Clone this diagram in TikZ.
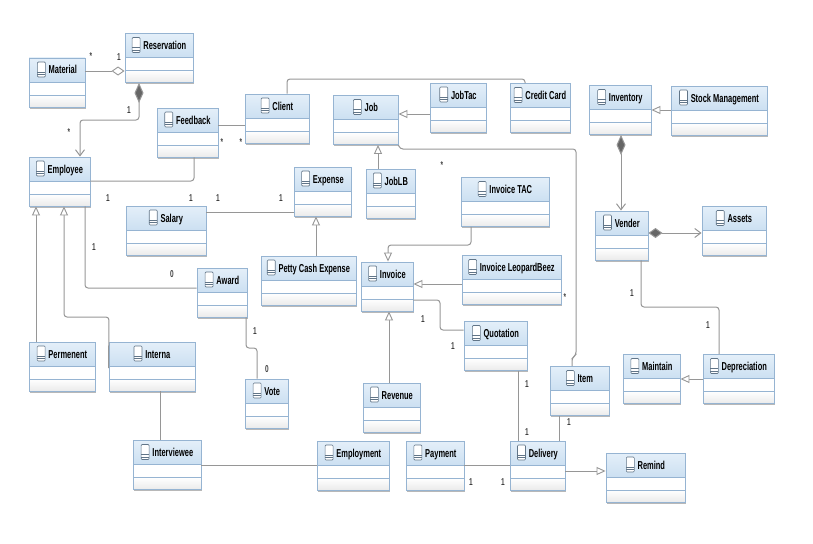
\documentclass[tikz,border=0pt]{standalone}
\usepackage{fontspec}
\setmainfont[FakeStretch=0.65]{Liberation Sans}
\usepackage{tikz}
\usetikzlibrary{arrows.meta, calc, shadows}
\definecolor{classedge}{RGB}{150,180,210}
\definecolor{classtop}{RGB}{228,239,249}
\definecolor{classbot}{RGB}{178,208,234}
\definecolor{linkgray}{RGB}{150,150,150}
\newcommand{\classicon}{\tikz[baseline=0pt,x=1pt,y=1pt]{\draw[classedge!65!black,fill=white,rounded corners=1pt,line width=0.6pt] (0,-3) rectangle (8,12);\draw[classedge!65!black,line width=0.6pt] (0,2)--(8,2) (0,-0.5)--(8,-0.5);}\hspace{3pt}}

\begin{document}
\begin{tikzpicture}[
    x=1pt, y=-1pt,
    classbox/.style={draw=classedge, line width=0.9pt, fill=white, inner xsep=0pt, inner ysep=5pt,
      text height=11pt, text depth=28pt, align=center, font=\bfseries\fontsize{11.5}{12}\selectfont,
      drop shadow={shadow xshift=0.6pt, shadow yshift=-1.6pt, fill=gray!70, opacity=0.8},
      path picture={
        \fill[top color=classtop, bottom color=classbot] (path picture bounding box.north west) rectangle ($(path picture bounding box.north east)+(0,24)$);
        \fill[top color=white, bottom color=gray!16] ($(path picture bounding box.south west)+(0,-12)$) rectangle (path picture bounding box.south east);
        \draw[classedge] ($(path picture bounding box.north west)+(0,24)$) -- ($(path picture bounding box.north east)+(0,24)$);
        \draw[classedge] ($(path picture bounding box.south west)+(0,-12)$) -- ($(path picture bounding box.south east)+(0,-12)$);
      }},
    link/.style={draw=linkgray, line width=1pt, rounded corners=3pt},
    inherit/.style={link, -{Triangle[open, fill=white, length=9pt, width=8pt, line width=0.9pt]}},
    hollowdia/.style={link, {Diamond[open, fill=white, length=13pt, width=9pt, line width=0.9pt]}-},
    soliddia/.style={link, {Diamond[fill=gray!80!black, length=20pt, width=9pt]}-{Straight Barb[length=6pt, width=9pt]}},
    flatdia/.style={link, {Diamond[fill=gray!80!black, length=14pt, width=10pt]}-{Straight Barb[length=6pt, width=9pt]}},
    mult/.style={font=\bfseries\fontsize{10}{10}\selectfont, text=black!75, inner sep=0pt}
]
  \useasboundingbox (0,0) rectangle (813,543);

  % classes
  \node[classbox, minimum width=56pt] (Material) at (57,82.5) {\classicon Material};
  \node[classbox, minimum width=68pt] (Reservation) at (159,58) {\classicon Reservation};
  \node[classbox, minimum width=61pt] (Feedback) at (187.5,132.5) {\classicon Feedback};
  \node[classbox, minimum width=64pt] (Client) at (277,118.5) {\classicon Client};
  \node[classbox, minimum width=61pt] (Employee) at (59.5,181.5) {\classicon Employee};
  \node[classbox, minimum width=65pt] (Job) at (365.5,120) {\classicon Job};
  \node[classbox, minimum width=56pt] (JobTac) at (458,107.5) {\classicon JobTac};
  \node[classbox, minimum width=60pt] (CreditCard) at (540,108) {\classicon Credit Card};
  \node[classbox, minimum width=57pt] (Expense) at (322.5,191.5) {\classicon Expense};
  \node[classbox, minimum width=49pt] (JobLB) at (390.5,193.5) {\classicon JobLB};
  \node[classbox, minimum width=88pt] (InvoiceTAC) at (505,202) {\classicon Invoice TAC};
  \node[classbox, minimum width=80pt] (Salary) at (166,230.5) {\classicon Salary};
  \node[classbox, minimum width=95pt] (PettyCash) at (308.5,280.5) {\classicon Petty Cash Expense};
  \node[classbox, minimum width=52pt] (Invoice) at (387,286.5) {\classicon Invoice};
  \node[classbox, minimum width=99pt] (InvoiceLB) at (511.5,280) {\classicon Invoice LeopardBeez};
  \node[classbox, minimum width=50pt] (Award) at (222,292.5) {\classicon Award};
  \node[classbox, minimum width=66pt] (Permenent) at (62,366.5) {\classicon Permenent};
  \node[classbox, minimum width=86pt] (Interna) at (152,366.5) {\classicon Interna};
  \node[classbox, minimum width=43pt] (Vote) at (266.5,403.5) {\classicon Vote};
  \node[classbox, minimum width=68pt] (Interviewee) at (167,465) {\classicon Interviewee};
  \node[classbox, minimum width=72pt] (Employment) at (353,465.5) {\classicon Employment};
  \node[classbox, minimum width=58pt] (Payment) at (435,465.5) {\classicon Payment};
  \node[classbox, minimum width=55pt] (Delivery) at (537.5,465.5) {\classicon Delivery};
  \node[classbox, minimum width=79pt] (Remind) at (645.5,477.5) {\classicon Remind};
  \node[classbox, minimum width=57pt] (Revenue) at (391.5,407.5) {\classicon Revenue};
  \node[classbox, minimum width=63pt] (Quotation) at (495.5,346) {\classicon Quotation};
  \node[classbox, minimum width=59pt] (Item) at (579.5,391) {\classicon Item};
  \node[classbox, minimum width=57pt] (Maintain) at (651.5,379) {\classicon Maintain};
  \node[classbox, minimum width=71pt] (Depreciation) at (738.5,379) {\classicon Depreciation};
  \node[classbox, minimum width=62pt] (Inventory) at (620,110) {\classicon Inventory};
  \node[classbox, minimum width=96pt] (StockMgmt) at (719,110.5) {\classicon Stock Management};
  \node[classbox, minimum width=53pt] (Vender) at (621.5,235.5) {\classicon Vender};
  \node[classbox, minimum width=64pt] (Assets) at (734,231) {\classicon Assets};

  % associations
  \draw[link] (Feedback.east |- 0,125) -- (Client.west |- 0,125);
  \draw[link] (Feedback.south -| 194,0) -- (194,181) -- (Employee.east |- 0,181);
  \draw[link] (Client.north -| 287,0) -- (287,79) -- (525,79) -- (CreditCard.north -| 525,0);
  \draw[link] (Job.south east) -- (400,149) -- (576,149) -- (576,355) -- (572,358) -- (Item.north -| 572,0);
  \draw[link] (Salary.east |- 0,212) -- (Expense.west |- 0,212);
  \draw[link] (Employee.south -| 85,0) -- (85,288) -- (Award.west |- 0,288);
  \draw[link] (Award.south -| 246,0) -- (246,348) -- (257,348) -- (Vote.north -| 257,0);
  \draw[link] (Interna.south -| 160,0) -- (Interviewee.north -| 160,0);
  \draw[link] (Interviewee.east |- 0,465) -- (Employment.west |- 0,465);
  \draw[link] (Payment.east |- 0,465) -- (Delivery.west |- 0,465);
  \draw[link] (Invoice.east |- 0,300) -- (440,300) -- (440,330) -- (Quotation.west |- 0,330);
  \draw[link] (Quotation.south -| 518,0) -- (Delivery.north -| 518,0);
  \draw[link] (Item.south -| 559,0) -- (Delivery.north -| 559,0);
  \draw[link] (Vender.south -| 641,0) -- (641,307) -- (719,307) -- (Depreciation.north -| 719,0);

  % generalizations
  \draw[inherit] (JobTac.west |- 0,114) -- (Job.east |- 0,114);
  \draw[inherit] (JobLB.north -| 378,0) -- (Job.south -| 378,0);
  \draw[inherit] (PettyCash.north -| 316,0) -- (Expense.south -| 316,0);
  \draw[inherit] (InvoiceTAC.south -| 471,0) -- (471,245) -- (388,245) -- (Invoice.north -| 388,0);
  \draw[inherit] (InvoiceLB.west |- 0,284) -- (Invoice.east |- 0,284);
  \draw[inherit] (Revenue.north -| 389,0) -- (Invoice.south -| 389,0);
  \draw[inherit] (Permenent.north -| 36,0) -- (Employee.south -| 36,0);
  \draw[inherit] (Interna.west |- 0,368) -- (109,317) -- (64,317) -- (Employee.south -| 64,0);
  \draw[inherit] (StockMgmt.west |- 0,110) -- (Inventory.east |- 0,110);
  \draw[inherit] (Depreciation.west |- 0,379) -- (Maintain.east |- 0,379);
  \draw[inherit] (Delivery.east |- 0,471) -- (Remind.west |- 0,471);

  % aggregations
  \draw[hollowdia] (Reservation.west |- 0,71) -- (Material.east |- 0,71);
  \draw[soliddia] (Reservation.south -| 139,0) -- (139,120) -- (80,120) -- (Employee.north -| 80,0);
  \draw[soliddia] (Inventory.south -| 621,0) -- (Vender.north -| 621,0);
  \draw[flatdia] (Vender.east |- 0,233) -- (Assets.west |- 0,233);

  % multiplicities
  \node[mult] (m1) at (91,56) {*};
  \node[mult] (m2) at (119,57) {1};
  \node[mult] (m3) at (129,110) {1};
  \node[mult] (m4) at (69,132) {*};
  \node[mult] (m5) at (222,142) {*};
  \node[mult] (m6) at (241,142) {*};
  \node[mult] (m7) at (108,198) {1};
  \node[mult] (m8) at (191,198) {1};
  \node[mult] (m9) at (218,198) {1};
  \node[mult] (m10) at (281,198) {1};
  \node[mult] (m11) at (442,165) {*};
  \node[mult] (m12) at (94,247) {1};
  \node[mult] (m13) at (172,274) {0};
  \node[mult] (m14) at (255,331) {1};
  \node[mult] (m15) at (267,369) {0};
  \node[mult] (m16) at (565,297) {*};
  \node[mult] (m17) at (423,319) {1};
  \node[mult] (m18) at (453,346) {1};
  \node[mult] (m19) at (527,384) {1};
  \node[mult] (m20) at (527,432) {1};
  \node[mult] (m21) at (569,422) {1};
  \node[mult] (m22) at (471,482) {1};
  \node[mult] (m23) at (503,482) {1};
  \node[mult] (m24) at (632,293) {1};
  \node[mult] (m25) at (708,325) {1};
\end{tikzpicture}
\end{document}
